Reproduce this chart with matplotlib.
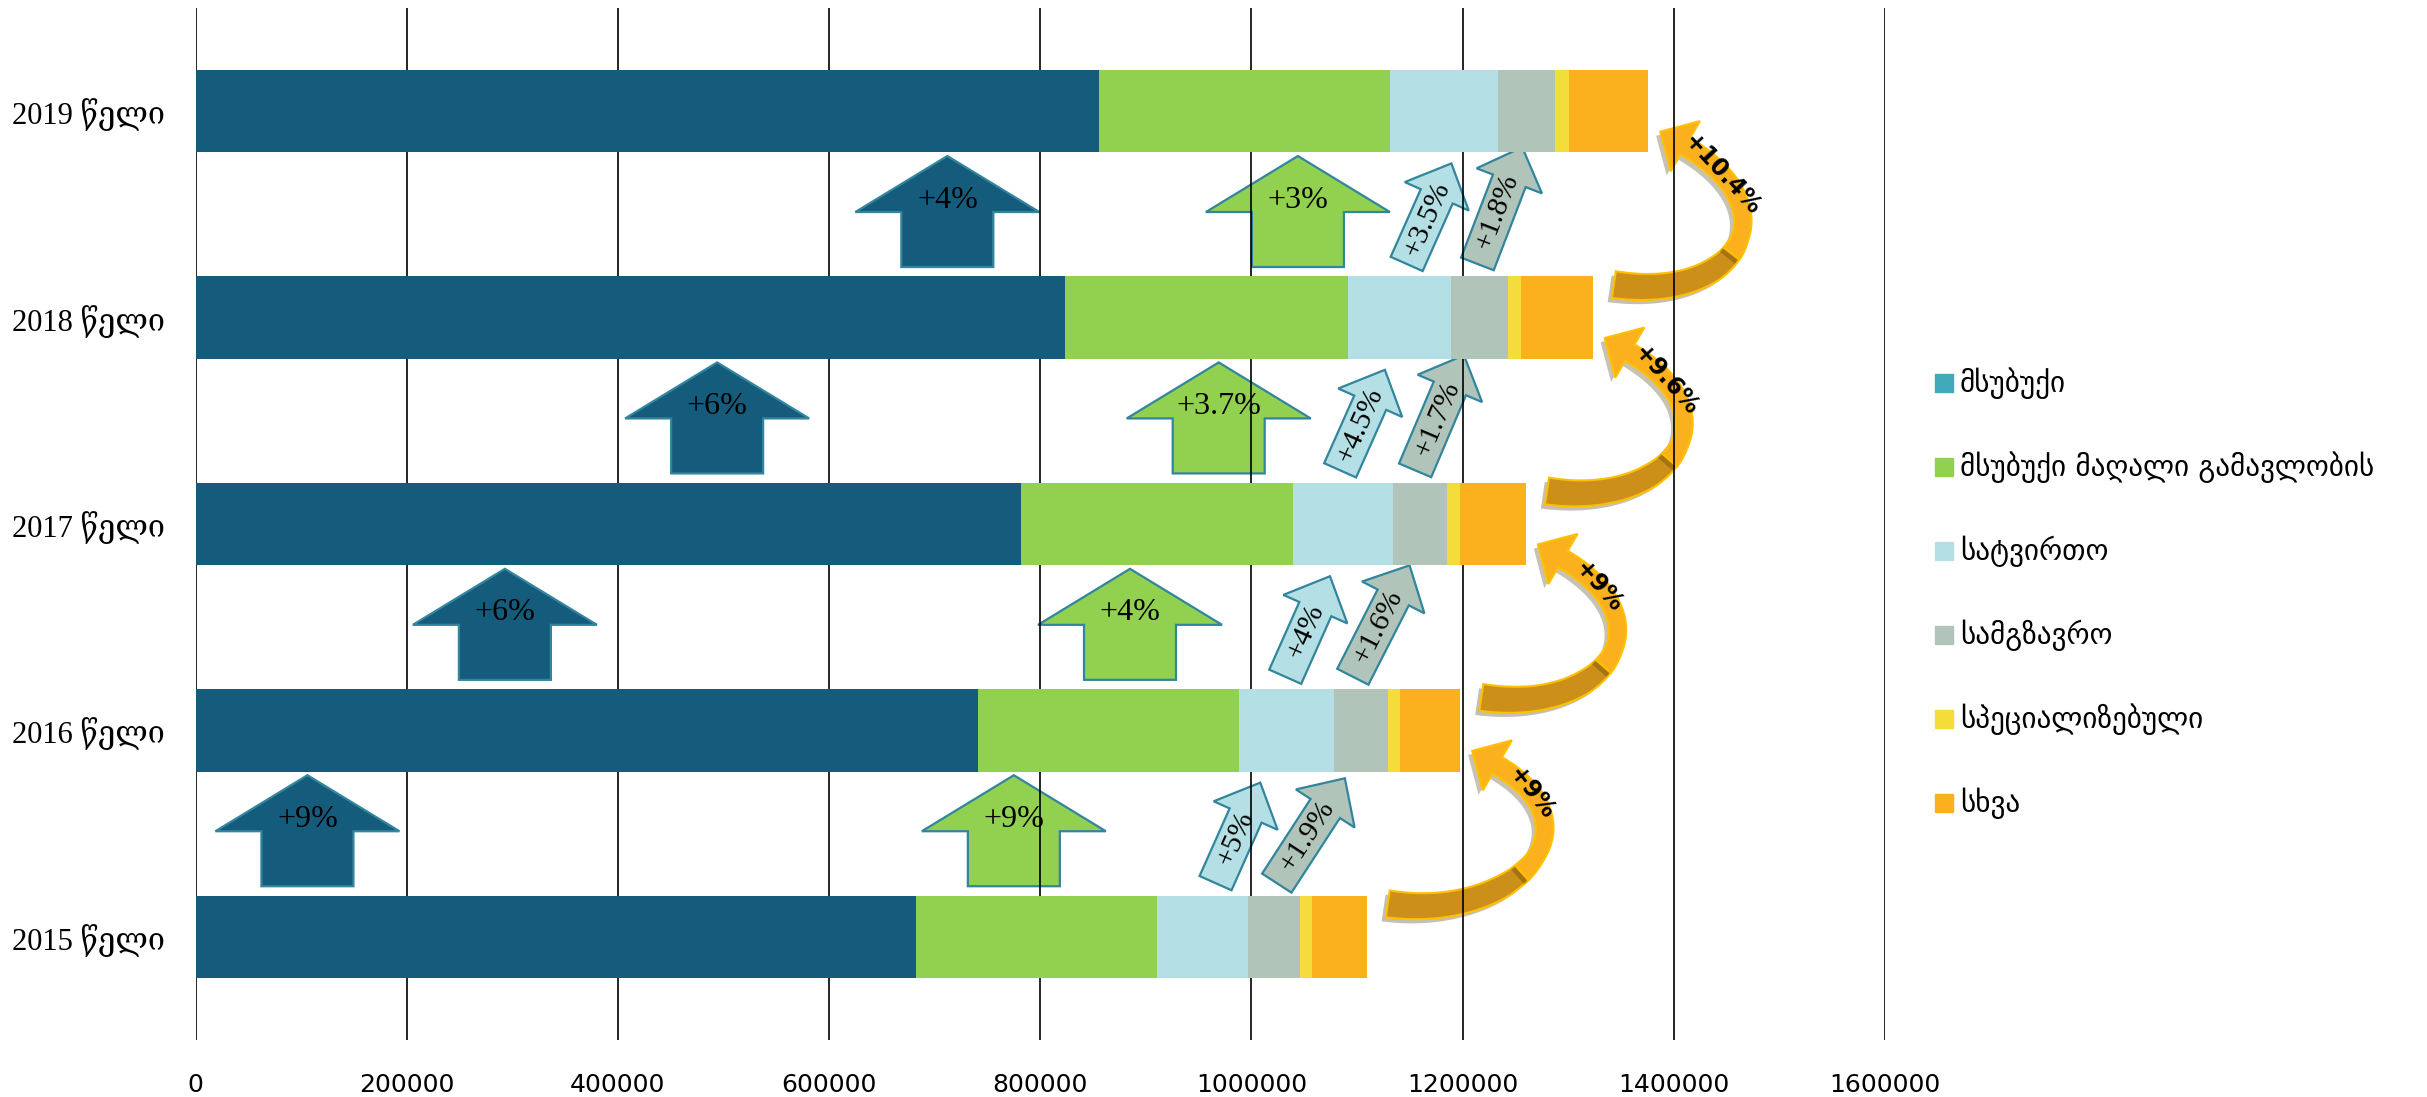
import numpy as np
import matplotlib.pyplot as plt
from matplotlib.patches import Polygon, Rectangle
import matplotlib.patheffects as pe

# ===========================================================================
# Data (number of registered vehicles by type)

anos = ['2015 წელი', '2016 წელი', '2017 წელი', '2018 წელი', '2019 წელი']
categorias = ['მსუბუქი', 'მსუბუქი მაღალი გამავლობის', 'სატვირთო',
              'სამგზავრო', 'სპეციალიზებული', 'სხვა']

msubuqi = [682800, 740700, 781600, 823700, 856000]
magali_gamavlobis = [228000, 247300, 257700, 267700, 275000]
satvirto = [85900, 90200, 94700, 98000, 102400]
samgzavro = [49400, 51100, 51100, 53200, 54100]
specializebuli = [11500, 11400, 12600, 12500, 13100]
skhva = [51600, 57100, 62300, 68200, 75300]

# growth labels between consecutive years
zrda_msubuqi = ['+9%', '+6%', '+6%', '+4%']
zrda_magali = ['+9%', '+4%', '+3.7%', '+3%']
zrda_satvirto = ['+5%', '+4%', '+4.5%', '+3.5%']
zrda_samgzavro = ['+1.9%', '+1.6%', '+1.7%', '+1.8%']
zrda_skhva = ['+9%', '+9%', '+9.6%', '+10.4%']

xticks = [0, 200000, 400000, 600000, 800000, 1000000, 1200000, 1400000, 1600000]

# where the annotation arrows sit (x in data units)
pos_azul = [106000, 293000, 494000, 712000]
pos_verde = [775000, 885000, 969000, 1044000]
pos_clara = [966000, 1032000, 1084000, 1147000]
pos_cinza = [1024000, 1096000, 1155000, 1214000]
incl_cinza = [33, 27, 23, 21]

# ===========================================================================
# Plot

W, H = 2427, 1097
cores = ['#155B7C', '#92D050', '#B4DFE4', '#B0C4BA', '#F4DC3A', '#FBB11E']
cores_legenda = ['#40AABB', '#92D050', '#B4DFE4', '#B0C4BA', '#F4DC3A', '#FBB11E']
borda = '#31859C'
serif = ['Liberation Serif', 'DejaVu Serif', 'DejaVu Sans']

fig = plt.figure(figsize=(W / 100, H / 100), dpi=100)
ax_w, ax_h = 1689.5, 1032
ax = fig.add_axes([195.5 / W, 57 / H, ax_w / W, ax_h / H])

y = np.arange(len(anos))
series = [msubuqi, magali_gamavlobis, satvirto, samgzavro, specializebuli, skhva]
left = np.zeros(len(anos))
for vals, cor in zip(series, cores):
    ax.barh(y, vals, left=left, height=0.4, color=cor, zorder=2)
    left += np.array(vals)
totais = left.copy()

ax.set_xlim(0, 1600000)
ax.set_ylim(-0.5, 4.5)
ax.set_xticks(xticks)
ax.set_xticklabels([str(v) for v in xticks], fontsize=18, family='DejaVu Sans')
ax.set_yticks(y)
ax.set_yticklabels(anos, fontsize=22, family=serif)
ax.tick_params(axis='x', length=0, pad=24)
ax.tick_params(axis='y', length=0, pad=22)
for s in ax.spines.values():
    s.set_visible(False)
ax.set_axisbelow(True)
ax.grid(axis='x', color='black', linewidth=1.2)

# pixel -> data scale
sx = 1600000 / ax_w
sy = 5 / ax_h


def seta_cima(x0, y0, cor, texto):
    forma = np.array([(-46, 0), (46, 0), (46, 55), (92, 55), (0, 111), (-92, 55), (-46, 55)])
    verts = np.column_stack([x0 + forma[:, 0] * sx, y0 + forma[:, 1] * sy])
    ax.add_patch(Polygon(verts, closed=True, fc=cor, ec=borda, lw=1.6, zorder=0.3))
    ax.text(x0, y0 + 67 * sy, texto, ha='center', va='center', fontsize=23,
            family=serif, zorder=5)


def seta_inclinada(x0, y0, ang, comp, cor, texto):
    forma = np.array([(-17.5, 0), (17.5, 0), (17.5, comp - 36), (35, comp - 36),
                      (0, comp), (-35, comp - 36), (-17.5, comp - 36)])
    a = np.radians(ang)
    rx = forma[:, 0] * np.cos(a) + forma[:, 1] * np.sin(a)
    ry = -forma[:, 0] * np.sin(a) + forma[:, 1] * np.cos(a)
    verts = np.column_stack([x0 + rx * sx, y0 + ry * sy])
    ax.add_patch(Polygon(verts, closed=True, fc=cor, ec=borda, lw=1.6, zorder=0.3))
    tx = x0 + 0.45 * comp * np.sin(a) * sx
    ty = y0 + 0.45 * comp * np.cos(a) * sy
    ax.text(tx, ty, texto, rotation=90 - ang, rotation_mode='anchor', ha='center',
            va='center', fontsize=21.5, family=serif, zorder=5)


def bezier(p, t):
    t = t[:, None]
    return ((1 - t) ** 3 * p[0] + 3 * (1 - t) ** 2 * t * p[1]
            + 3 * (1 - t) * t ** 2 * p[2] + t ** 3 * p[3])


def bezier_d(p, t):
    t = t[:, None]
    return (3 * (1 - t) ** 2 * (p[1] - p[0]) + 6 * (1 - t) * t * (p[2] - p[1])
            + 3 * t ** 2 * (p[3] - p[2]))


def seta_curva(xa, ya, xb, yb, texto):
    # everything in pixels, converted back at the end
    p0 = np.array([xa / sx + 21, ya / sy + 33])
    p3 = np.array([xb / sx + 37, yb / sy - 35])
    d0 = np.array([1.0, -0.15]); d0 /= np.linalg.norm(d0)
    d1 = np.array([-0.86, 0.5]); d1 /= np.linalg.norm(d1)
    k = 125
    p = [p0, p0 + k * d0, p3 - k * d1, p3]
    t = np.linspace(0, 1, 100)
    c = bezier(p, t)
    d = bezier_d(p, t)
    d /= np.linalg.norm(d, axis=1)[:, None]
    n = np.column_stack([-d[:, 1], d[:, 0]])
    w = np.interp(t, [0, 0.35, 0.55, 1], [27, 23, 17, 19])[:, None]
    inner = c + n * w / 2
    outer = c - n * w / 2
    n1 = n[-1]
    sombra = [pe.SimplePatchShadow(offset=(-3, -3), alpha=0.3), pe.Normal()]

    m = t <= 0.5
    escuro = np.vstack([outer[m], inner[m][::-1]])
    m = t >= 0.45
    cabeca = np.array([p3 - n1 * 29, p3 + d1 * 29, p3 + n1 * 29])
    claro = np.vstack([outer[m], cabeca, inner[m][::-1]])
    for verts, cor in [(escuro, '#CC8F19'), (claro, '#FBB11E')]:
        verts = verts * [sx, sy]
        ax.add_patch(Polygon(verts, closed=True, fc=cor, ec='#FFC000', lw=1.5,
                             zorder=0.3, path_effects=sombra))

    i = np.searchsorted(t, 0.85)
    ang = np.degrees(np.arctan2(-d[i, 1], -d[i, 0]))
    ax.text(c[i, 0] * sx, c[i, 1] * sy, texto, rotation=ang, rotation_mode='anchor',
            ha='center', va='center', fontsize=17, fontweight='bold',
            family='DejaVu Sans', zorder=5)


for i in range(4):
    y0 = y[i] + 0.245
    seta_cima(pos_azul[i], y0, cores[0], zrda_msubuqi[i])
    seta_cima(pos_verde[i], y0, cores[1], zrda_magali[i])
    seta_inclinada(pos_clara[i], y[i] + 0.26, 24, 110, cores[2], zrda_satvirto[i])
    seta_inclinada(pos_cinza[i], y[i] + 0.26, incl_cinza[i], 125, cores[3], zrda_samgzavro[i])
    seta_curva(totais[i], y[i], totais[i + 1], y[i + 1], zrda_skhva[i])

# Legend, drawn by hand
for i, (nome, cor) in enumerate(zip(categorias, cores_legenda)):
    base = H - 392 - 84 * i
    fig.add_artist(Rectangle((1935 / W, base / H), 18 / W, 18 / H, color=cor,
                             transform=fig.transFigure))
    fig.text(1960 / W, base / H, nome, va='baseline', ha='left', fontsize=21,
             family='DejaVu Sans')

fig.savefig('out.png', dpi=100)
